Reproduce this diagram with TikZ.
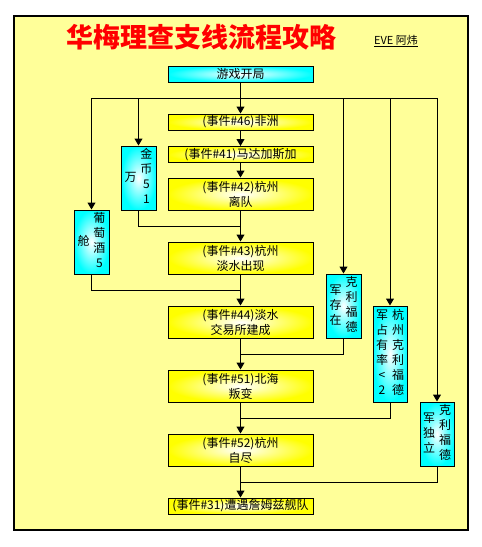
\documentclass[tikz,border=0pt]{standalone}
\usepackage{fontspec}
\setmainfont{Noto Sans CJK SC}
\usetikzlibrary{arrows.meta}
\definecolor{paper}{RGB}{255,255,153}
\newcommand\twocol[2]{\begin{tabular}{@{}c@{}}#1\end{tabular}\hspace{4pt}\begin{tabular}{@{}c@{}}#2\end{tabular}}
\tikzset{
  evbox/.style={draw,line width=1pt,inner color=white,outer color=yellow,minimum width=145pt,inner sep=0pt,align=center,font=\fontsize{12}{15}\selectfont},
  condbox/.style={draw,line width=1pt,inner color=white,outer color=cyan,inner sep=0pt,font=\fontsize{12}{15}\selectfont},
  link/.style={line width=1pt},
  arr/.style={link,-{Triangle[length=7pt,width=8pt]}}
}
\begin{document}
\begin{tikzpicture}[x=1pt,y=-1pt]
		\useasboundingbox (0,0) rectangle (482,547);
		\draw[line width=1.2pt,fill=paper] (14,16) rectangle (468,530);
		\node[text=red,font=\fontsize{27}{30}\selectfont\bfseries] (title) at (201.5,37){华梅理查支线流程攻略};
		\node[font=\fontsize{11}{13}\selectfont] (sign) at (396,41){\underline{EVE 阿炜}};
		\node[evbox,outer color=cyan,minimum height=16pt] (start) at (240.5,74){游戏开局};
		\node[evbox,minimum height=16pt] (e46) at (240.5,122){(事件\#46)非洲};
		\node[evbox,minimum height=16pt] (e41) at (240.5,154.5){(事件\#41)马达加斯加};
		\node[evbox,minimum height=32pt] (e42) at (240.5,194){(事件\#42)杭州\\离队};
		\node[evbox,minimum height=32pt] (e43) at (240.5,258){(事件\#43)杭州\\淡水出现};
		\node[evbox,minimum height=32pt] (e44) at (240.5,322){(事件\#44)淡水\\交易所建成};
		\node[evbox,minimum height=32pt] (e51) at (240.5,386){(事件\#51)北海\\叛变};
		\node[evbox,minimum height=32pt] (e52) at (240.5,450){(事件\#52)杭州\\自尽};
		\node[evbox,minimum height=16pt] (e31) at (240.5,506){(事件\#31)遭遇詹姆兹舰队};
		\node[condbox,minimum width=35pt,minimum height=64pt] (gold) at (138.5,178){\twocol{万}{金\\币\\5\\1}};
		\node[condbox,minimum width=35pt,minimum height=64pt] (wine) at (91.5,242){\twocol{舱}{葡\\萄\\酒\\5}};
		\node[condbox,minimum width=35pt,minimum height=64pt] (exist) at (343.5,306){\twocol{军\\存\\在}{克\\利\\福\\德}};
		\node[condbox,minimum width=34pt,minimum height=96pt] (share) at (390,354){\twocol{军\\占\\有\\率\\<\\2}{杭\\州\\克\\利\\福\\德}};
		\node[condbox,minimum width=34pt,minimum height=64pt] (indep) at (437,434){\twocol{军\\独\\立}{克\\利\\福\\德}};
		\coordinate (split) at (240.5,98);
		\coordinate (j1) at (240.5,226);
		\coordinate (j2) at (240.5,290);
		\coordinate (j3) at (240.5,354);
		\coordinate (j4) at (240.5,418);
		\coordinate (j5) at (240.5,482);
		\draw[arr] (start) -- (e46);
		\draw[arr] (split) -| (wine.north);
		\draw[arr] (split) -| (gold.north);
		\draw[arr] (split) -| (exist.north);
		\draw[arr] (split) -| (share.north);
		\draw[arr] (split) -| (indep.north);
		\draw[arr] (e46) -- (e41);
		\draw[arr] (e41) -- (e42);
		\draw[arr] (e42) -- (e43);
		\draw[arr] (e43) -- (e44);
		\draw[arr] (e44) -- (e51);
		\draw[arr] (e51) -- (e52);
		\draw[arr] (e52) -- (e31);
		\draw[link] (gold.south) |- (j1);
		\draw[link] (wine.south) |- (j2);
		\draw[link] (exist.south) |- (j3);
		\draw[link] (share.south) |- (j4);
		\draw[link] (indep.south) |- (j5);
\end{tikzpicture}
\end{document}
